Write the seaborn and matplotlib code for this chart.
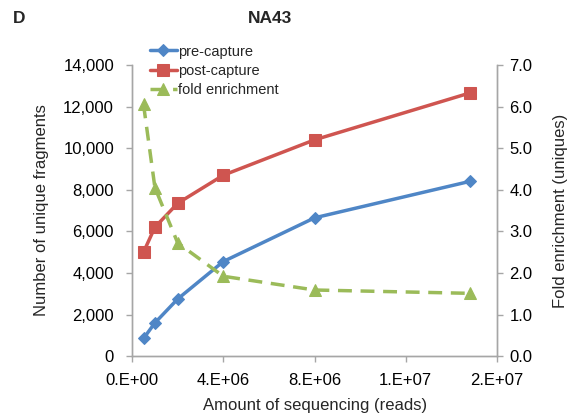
import matplotlib
matplotlib.use('Agg')
import matplotlib.pyplot as plt
import seaborn as sns
import pandas as pd
from matplotlib.ticker import FixedLocator, FixedFormatter, FuncFormatter

# reads vs unique fragments
reads = [0.5e6, 1.0e6, 2.0e6, 4.0e6, 8.0e6, 14.8e6]
pre_capture = [850, 1600, 2750, 4550, 6650, 8400]
post_capture = [5000, 6200, 7350, 8700, 10400, 12650]
fold_enrichment = [6.05, 4.05, 2.72, 1.92, 1.59, 1.51]

xticks = [0, 4e6, 8e6, 1.2e7, 1.6e7]
xtick_labels = ['0.E+00', '4.E+06', '8.E+06', '1.E+07', '2.E+07']

df = pd.DataFrame({'reads': reads, 'pre': pre_capture, 'post': post_capture,
                   'fold': fold_enrichment})

sns.set_style('white')
plt.rcParams['font.family'] = ['Liberation Sans', 'DejaVu Sans']

blue = '#4F86C6'
red = '#CF5550'
green = '#9BBB59'
grey = '#A6A6A6'

fig = plt.figure(figsize=(5.82, 4.19), dpi=100)
ax = fig.add_axes([0.227, 0.150, 0.627, 0.695])
ax2 = ax.twinx()

sns.lineplot(data=df, x='reads', y='pre', ax=ax, color=blue, lw=2.5,
             marker='D', markersize=6, markeredgecolor=blue, label='pre-capture')
sns.lineplot(data=df, x='reads', y='post', ax=ax, color=red, lw=2.5,
             marker='s', markersize=8, markeredgecolor=red, label='post-capture')
sns.lineplot(data=df, x='reads', y='fold', ax=ax2, color=green, lw=2.5,
             marker='^', markersize=8, markeredgecolor=green,
             dashes=(4, 2.5), label='fold enrichment')

ax.set_xlim(0, 1.6e7)
ax.set_ylim(0, 14000)
ax2.set_ylim(0, 7)
ax.set_yticks(range(0, 14001, 2000))
ax.yaxis.set_major_formatter(FuncFormatter(lambda v, p: f'{int(v):,}'))
ax2.set_yticks([i * 1.0 for i in range(8)])
ax2.yaxis.set_major_formatter(FuncFormatter(lambda v, p: f'{v:.1f}'))
ax.xaxis.set_major_locator(FixedLocator(xticks))
ax.xaxis.set_major_formatter(FixedFormatter(xtick_labels))

for a in (ax, ax2):
    a.spines['top'].set_visible(False)
    for s in a.spines.values():
        s.set_color(grey)
        s.set_linewidth(1.0)
    a.tick_params(axis='both', colors='black', labelsize=12, length=4,
                  width=1.0, color=grey, direction='out')
ax.tick_params(axis='x', bottom=True, pad=8)
ax.tick_params(axis='y', left=True, right=False, pad=9)
ax2.tick_params(axis='y', right=True, left=False, pad=5)

ax.set_xlabel('Amount of sequencing (reads)', fontsize=12, labelpad=7)
ax.set_ylabel('Number of unique fragments', fontsize=12, labelpad=10)
ax2.set_ylabel('Fold enrichment (uniques)', fontsize=12, labelpad=15)

h1, l1 = ax.get_legend_handles_labels()
h2, l2 = ax2.get_legend_handles_labels()
if ax2.get_legend():
    ax2.get_legend().remove()
ax.legend(h1 + h2, l1 + l2, loc='upper left', bbox_to_anchor=(0.03, 1.095),
          frameon=False, fontsize=10.5, handlelength=1.8, handletextpad=0.1,
          labelspacing=0.35, borderpad=0)

fig.text(0.464, 0.955, 'NA43', fontsize=12.5, fontweight='bold', ha='center', va='center')
fig.text(0.022, 0.955, 'D', fontsize=12.5, fontweight='bold', ha='left', va='center')

fig.savefig('out.png', dpi=100)
